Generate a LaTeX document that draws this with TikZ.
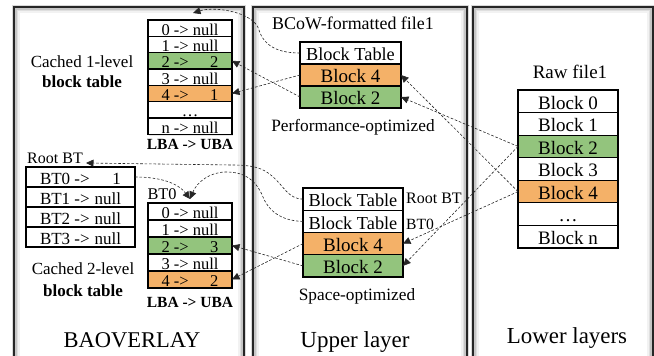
\documentclass[tikz,border=0pt]{standalone}
\usepackage{fontspec}
\setmainfont{Liberation Serif}
\usetikzlibrary{arrows.meta,shadows}
\definecolor{cgreen}{RGB}{147,196,125}
\definecolor{corange}{RGB}{244,177,104}
\newcommand\fsz[1]{\fontsize{#1}{#1}\selectfont}
\tikzset{
  cell/.style={draw=black, line width=1.1pt, fill=white, inner sep=0pt, outer sep=0pt,
    drop shadow={shadow xshift=1.2pt, shadow yshift=-1.2pt, opacity=0.18}},
  blk/.style={cell, minimum width=101pt, minimum height=22pt, font=\fsz{19}, text height=15.5pt, text depth=0pt},
  blt/.style={blk, font=\fsz{18.3}},
  ent/.style={cell, minimum width=84pt, font=\fsz{16.5}, text height=13.8pt, text depth=0pt},
  rent/.style={cell, minimum width=109pt, minimum height=20pt, font=\fsz{17}, text height=14.5pt, text depth=0pt},
  gr/.style={fill=cgreen},
  og/.style={fill=corange},
  lbl/.style={inner sep=1pt, anchor=base},
  conn/.style={draw=black!85, line width=0.6pt, dash pattern=on 2.6pt off 1.8pt,
    -{Triangle[length=7.5pt,width=7pt]}},
}
\newcommand\ent[2]{\makebox[57pt]{#1 ->\hfill #2}}
\newcommand\rent[2]{\makebox[81pt]{#1 ->\hfill #2}}
\begin{document}
\begin{tikzpicture}[x=1pt,y=-1pt]
\useasboundingbox (0,0) rectangle (654,356);
\clip (0,0) rectangle (654,356);
% panels
\foreach \xa/\xb in {14/244, 253/467, 473/653} {
  \draw[gray!10, line width=1.5pt] (\xa+5.2,12.2) rectangle (\xb-5.2,370);
  \draw[gray!25, line width=1.5pt] (\xa+3.7,10.7) rectangle (\xb-3.7,370);
  \draw[gray!45, line width=1.5pt] (\xa+2.2,9.2) rectangle (\xb-2.2,370);
  \draw[gray!30, line width=1pt] (\xa-1.2,5.8) rectangle (\xb+1.2,370);
  \draw[black!85, line width=1.3pt] (\xa,7) rectangle (\xb,370);
}
% ---------- left panel ----------
\node[lbl, font=\fsz{17}] (c1a) at (82,67) {Cached 1-level};
\node[lbl, font=\fsz{17}\bfseries] (c1b) at (82,87) {block table};
\node[ent, minimum height=16.33pt] (ta0) at (190,28.17) {\ent{0}{null}};
\node[ent, minimum height=16.33pt] (ta1) at (190,44.5) {\ent{1}{null}};
\node[ent, minimum height=16.33pt, gr] (ta2) at (190,60.83) {\ent{2}{2}};
\node[ent, minimum height=16.33pt] (ta3) at (190,77.17) {\ent{3}{null}};
\node[ent, minimum height=16.33pt, og] (ta4) at (190,93.5) {\ent{4}{1}};
\node[ent, minimum height=16.33pt] (ta5) at (190,109.83) {\ldots};
\node[ent, minimum height=16.33pt] (ta6) at (190,126.17) {\ent{n}{null}};
\node[lbl, font=\fsz{15.5}\bfseries] (lu1) at (190,149) {LBA -> UBA};

\node[lbl, font=\fsz{16}] (rootlbl) at (55,163) {Root BT};
\node[rent] (rt0) at (80.5,177) {\rent{BT0}{1}};
\node[rent] (rt1) at (80.5,197) {\rent{BT1}{null}};
\node[rent] (rt2) at (80.5,217) {\rent{BT2}{null}};
\node[rent] (rt3) at (80.5,237) {\rent{BT3}{null}};

\node[lbl, font=\fsz{16.3}] (bt0lbl) at (162,199) {BT0};
\node[ent, minimum height=17pt] (tb0) at (190,211.5) {\ent{0}{null}};
\node[ent, minimum height=17pt] (tb1) at (190,228.5) {\ent{1}{null}};
\node[ent, minimum height=17pt, gr] (tb2) at (190,245.5) {\ent{2}{3}};
\node[ent, minimum height=17pt] (tb3) at (190,262.5) {\ent{3}{null}};
\node[ent, minimum height=17pt, og] (tb4) at (190,279.5) {\ent{4}{2}};
\node[lbl, font=\fsz{15.5}\bfseries] (lu2) at (190,307) {LBA -> UBA};
\node[lbl, font=\fsz{17}] (c2a) at (83,274) {Cached 2-level};
\node[lbl, font=\fsz{17}\bfseries] (c2b) at (83,296) {block table};
\node[lbl, font=\fsz{22.5}] (baov) at (132,347) {BAOVERLAY};

% ---------- middle panel ----------
\node[lbl, font=\fsz{17.9}] (bcow) at (353,30) {BCoW-formatted file1};
\node[blt] (ubt) at (350.5,53) {Block Table};
\node[blk, og] (ub4) at (350.5,75) {Block 4};
\node[blk, gr] (ub2) at (350.5,97) {Block 2};
\node[lbl, font=\fsz{17.3}] (perf) at (353,131) {Performance-optimized};

\node[blt, minimum width=100pt, minimum height=22.25pt] (lbt1) at (353,199.1) {Block Table};
\node[blt, minimum width=100pt, minimum height=22.25pt] (lbt2) at (353,221.4) {Block Table};
\node[blk, og, minimum width=100pt, minimum height=22.25pt] (lb4) at (353,243.6) {Block 4};
\node[blk, gr, minimum width=100pt, minimum height=22.25pt] (lb2) at (353,265.9) {Block 2};
\node[lbl, font=\fsz{16}, anchor=base west] (rbl) at (405,203) {Root BT};
\node[lbl, font=\fsz{15.6}, anchor=base west] (bbl) at (405,229) {BT0};
\node[lbl, font=\fsz{17.3}] (space) at (357,300) {Space-optimized};
\node[lbl, font=\fsz{23}] (upper) at (355,347) {Upper layer};

% ---------- right panel ----------
\node[lbl, font=\fsz{19}] (rawlbl) at (570,78) {Raw file1};
\node[blk, minimum width=100pt, minimum height=22.57pt] (raw0) at (568,101.3) {Block 0};
\node[blk, minimum width=100pt, minimum height=22.57pt] (raw1) at (568,123.9) {Block 1};
\node[blk, gr, minimum width=100pt, minimum height=22.57pt] (raw2) at (568,146.4) {Block 2};
\node[blk, minimum width=100pt, minimum height=22.57pt] (raw3) at (568,169.0) {Block 3};
\node[blk, og, minimum width=100pt, minimum height=22.57pt] (raw4) at (568,191.6) {Block 4};
\node[blk, minimum width=100pt, minimum height=22.57pt] (raw5) at (568,214.1) {\ldots};
\node[blk, minimum width=100pt, minimum height=22.57pt] (rawn) at (568,236.7) {Block n};
\node[lbl, font=\fsz{22.9}] (lower) at (567,343) {Lower layers};

% ---------- connectors ----------
\coordinate (t1in) at (193,13);
\coordinate (rootin) at (86,163);
\coordinate (bt0in) at (190,199);
\draw[conn] (ubt.west) .. controls (278,53) and (264,46) .. (259,30)
  .. controls (254,12) and (215,6) .. (t1in);
\draw[conn] (ub4.west) -- (ta4.east);
\draw[conn] (ub2.west) -- (ta2.east);
\draw[conn] (raw2.west) -- (ub2.east);
\draw[conn] (raw4.west) -- (ub4.east);
\draw[conn] (raw2.west) -- (lb2.east);
\draw[conn] (raw4.west) -- (lb4.east);
\draw[conn] (lbt1.west) .. controls (288,199) and (284,186) .. (272,176)
  .. controls (262,167) and (250,165) .. (232,165) -- (rootin);
\draw[conn] (lbt2.west) .. controls (285,221) and (270,214) .. (263,197)
  .. controls (256,180) and (245,172) .. (226,172)
  .. controls (210,172) and (197,182) .. (bt0in);
\draw[conn] (rt0.east) .. controls (160,177) and (178,183) .. (bt0in);
\draw[conn] (lb4.west) -- (tb4.east);
\draw[conn] (lb2.west) -- (tb2.east);
\end{tikzpicture}
\end{document}
